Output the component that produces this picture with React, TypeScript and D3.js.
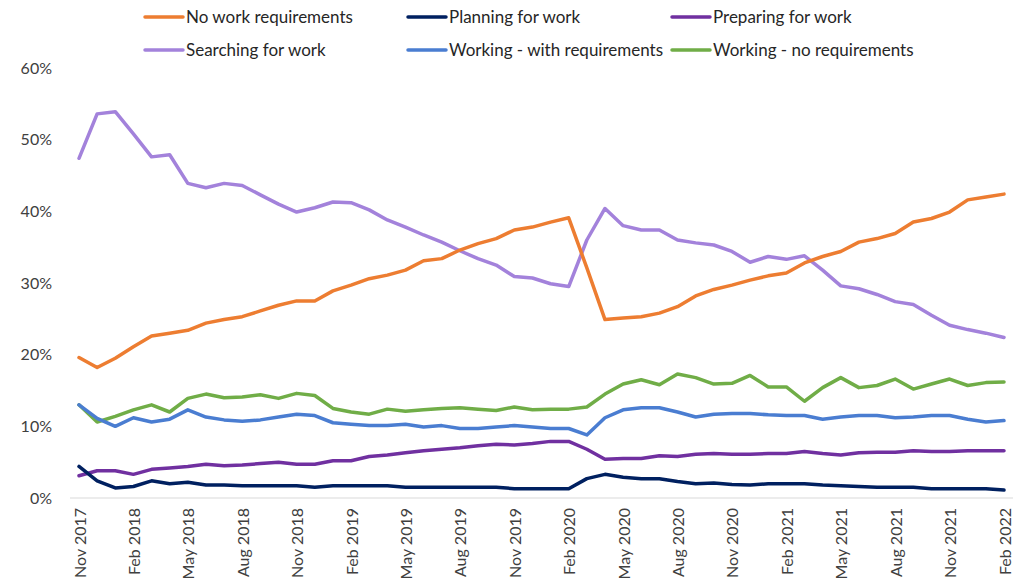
import React, { useEffect, useRef } from "react";
import * as d3 from "d3";

const months: string[] = d3
  .timeMonth.range(new Date(2017, 10, 1), new Date(2022, 2, 1))
  .map((d) => d3.timeFormat("%b %Y")(d));

const tickLabels = [
  "Nov 2017", "Feb 2018", "May 2018", "Aug 2018", "Nov 2018", "Feb 2019",
  "May 2019", "Aug 2019", "Nov 2019", "Feb 2020", "May 2020", "Aug 2020",
  "Nov 2020", "Feb 2021", "May 2021", "Aug 2021", "Nov 2021", "Feb 2022",
];

const yTicks = [0, 10, 20, 30, 40, 50, 60];

const noWorkReq = [
  19.6, 18.2, 19.5, 21.1, 22.6, 23.0, 23.4, 24.4, 24.9, 25.3, 26.1, 26.9, 27.5,
  27.5, 28.9, 29.7, 30.6, 31.1, 31.8, 33.1, 33.4, 34.6, 35.5, 36.2, 37.4, 37.8,
  38.5, 39.1, 32.1, 24.9, 25.1, 25.3, 25.8, 26.7, 28.2, 29.1, 29.7, 30.4, 31.0,
  31.4, 32.8, 33.7, 34.4, 35.7, 36.2, 36.9, 38.5, 39.0, 39.9, 41.6, 42.0, 42.4,
];

const planning = [
  4.4, 2.4, 1.4, 1.6, 2.4, 2.0, 2.2, 1.8, 1.8, 1.7, 1.7, 1.7, 1.7, 1.5, 1.7,
  1.7, 1.7, 1.7, 1.5, 1.5, 1.5, 1.5, 1.5, 1.5, 1.3, 1.3, 1.3, 1.3, 2.7, 3.3,
  2.9, 2.7, 2.7, 2.3, 2.0, 2.1, 1.9, 1.8, 2.0, 2.0, 2.0, 1.8, 1.7, 1.6, 1.5,
  1.5, 1.5, 1.3, 1.3, 1.3, 1.3, 1.1,
];

const preparing = [
  3.1, 3.8, 3.8, 3.3, 4.0, 4.2, 4.4, 4.7, 4.5, 4.6, 4.8, 5.0, 4.7, 4.7, 5.2,
  5.2, 5.8, 6.0, 6.3, 6.6, 6.8, 7.0, 7.3, 7.5, 7.4, 7.6, 7.9, 7.9, 6.8, 5.4,
  5.5, 5.5, 5.9, 5.8, 6.1, 6.2, 6.1, 6.1, 6.2, 6.2, 6.5, 6.2, 6.0, 6.3, 6.4,
  6.4, 6.6, 6.5, 6.5, 6.6, 6.6, 6.6,
];

const searching = [
  47.4, 53.6, 53.9, 50.8, 47.6, 47.9, 43.9, 43.3, 43.9, 43.6, 42.3, 41.0, 39.9,
  40.5, 41.3, 41.2, 40.2, 38.8, 37.8, 36.7, 35.7, 34.5, 33.4, 32.5, 30.9, 30.7,
  29.9, 29.5, 36.0, 40.4, 38.0, 37.4, 37.4, 36.0, 35.6, 35.3, 34.4, 32.9, 33.7,
  33.3, 33.8, 31.8, 29.6, 29.2, 28.4, 27.4, 27.0, 25.5, 24.1, 23.5, 23.0, 22.4,
];

const workingWithReq = [
  13.0, 11.1, 10.0, 11.2, 10.6, 11.0, 12.3, 11.3, 10.9, 10.7, 10.9, 11.3, 11.7,
  11.5, 10.5, 10.3, 10.1, 10.1, 10.3, 9.9, 10.1, 9.7, 9.7, 9.9, 10.1, 9.9, 9.7,
  9.7, 8.8, 11.2, 12.3, 12.6, 12.6, 12.0, 11.3, 11.7, 11.8, 11.8, 11.6, 11.5,
  11.5, 11.0, 11.3, 11.5, 11.5, 11.2, 11.3, 11.5, 11.5, 11.0, 10.6, 10.8,
];

const workingNoReq = [
  13.0, 10.6, 11.4, 12.3, 13.0, 12.0, 13.9, 14.5, 14.0, 14.1, 14.4, 13.9, 14.6,
  14.3, 12.5, 12.0, 11.7, 12.4, 12.1, 12.3, 12.5, 12.6, 12.4, 12.2, 12.7, 12.3,
  12.4, 12.4, 12.7, 14.5, 15.9, 16.5, 15.8, 17.3, 16.8, 15.9, 16.0, 17.1, 15.5,
  15.5, 13.5, 15.4, 16.8, 15.4, 15.7, 16.6, 15.2, 15.9, 16.6, 15.7, 16.1, 16.2,
];

const seriesNames = [
  "No work requirements",
  "Planning for work",
  "Preparing for work",
  "Searching for work",
  "Working - with requirements",
  "Working - no requirements",
];
const seriesColors = ["#ED7D31", "#002060", "#7030A0", "#A382DB", "#4A7DD1", "#70AD47"];
const seriesValues = [noWorkReq, planning, preparing, searching, workingWithReq, workingNoReq];
// draw order (back to front)
const drawOrder = [5, 4, 2, 1, 3, 0];

const W = 1027;
const H = 582;
const FONT = "Lato, 'Open Sans', sans-serif";

export default function App() {
  const ref = useRef<SVGSVGElement | null>(null);

  useEffect(() => {
    const svg = d3.select(ref.current);
    svg.selectAll("*").remove();

    const x = d3.scalePoint<string>().domain(months).range([79, 1004]);
    const y = d3.scaleLinear().domain([0, 60]).range([498, 68]);

    // baseline
    svg
      .append("line")
      .attr("x1", 70)
      .attr("x2", 1013)
      .attr("y1", y(0))
      .attr("y2", y(0))
      .attr("stroke", "#D9D9D9")
      .attr("stroke-width", 1);

    // y axis labels
    const yAxis = d3
      .axisLeft(y)
      .tickValues(yTicks)
      .tickSize(0)
      .tickPadding(0)
      .tickFormat((d) => `${d}%`);
    const gy = svg.append("g").attr("transform", "translate(52,0)").call(yAxis);
    gy.select(".domain").remove();
    gy.selectAll("text")
      .attr("font-family", FONT)
      .attr("font-size", 16)
      .attr("fill", "#404040");

    // x axis labels
    const xAxis = d3.axisBottom(x).tickValues(tickLabels).tickSize(0).tickPadding(0);
    const gx = svg.append("g").attr("transform", `translate(0,${y(0)})`).call(xAxis);
    gx.select(".domain").remove();
    gx.selectAll("text")
      .attr("font-family", FONT)
      .attr("font-size", 16)
      .attr("fill", "#404040")
      .attr("text-anchor", "end")
      .attr("dy", null)
      .attr("y", null)
      .attr("transform", "translate(6,10) rotate(-90)");

    // lines
    const line = d3
      .line<number>()
      .x((_, i) => x(months[i]) as number)
      .y((d) => y(d));

    drawOrder.forEach((k) => {
      svg
        .append("path")
        .datum(seriesValues[k])
        .attr("d", line)
        .attr("fill", "none")
        .attr("stroke", seriesColors[k])
        .attr("stroke-width", 3.5)
        .attr("stroke-linejoin", "round")
        .attr("stroke-linecap", "round");
    });

    // legend
    const legX = [145, 408, 672];
    const legY = [17, 50];
    seriesNames.forEach((name, i) => {
      const col = i % 3;
      const row = Math.floor(i / 3);
      const g = svg.append("g").attr("transform", `translate(${legX[col]},${legY[row]})`);
      g.append("line")
        .attr("x1", 0)
        .attr("x2", 38)
        .attr("y1", 0)
        .attr("y2", 0)
        .attr("stroke", seriesColors[i])
        .attr("stroke-width", 3.5)
        .attr("stroke-linecap", "round");
      g.append("text")
        .attr("x", 41)
        .attr("y", 0)
        .attr("dy", "0.35em")
        .attr("font-family", FONT)
        .attr("font-size", 17)
        .attr("fill", "#262626")
        .text(name);
    });
  }, []);

  return (
    <svg
      ref={ref}
      width={W}
      height={H}
      style={{ position: "absolute", left: 0, top: 0, background: "#fff" }}
    />
  );
}
